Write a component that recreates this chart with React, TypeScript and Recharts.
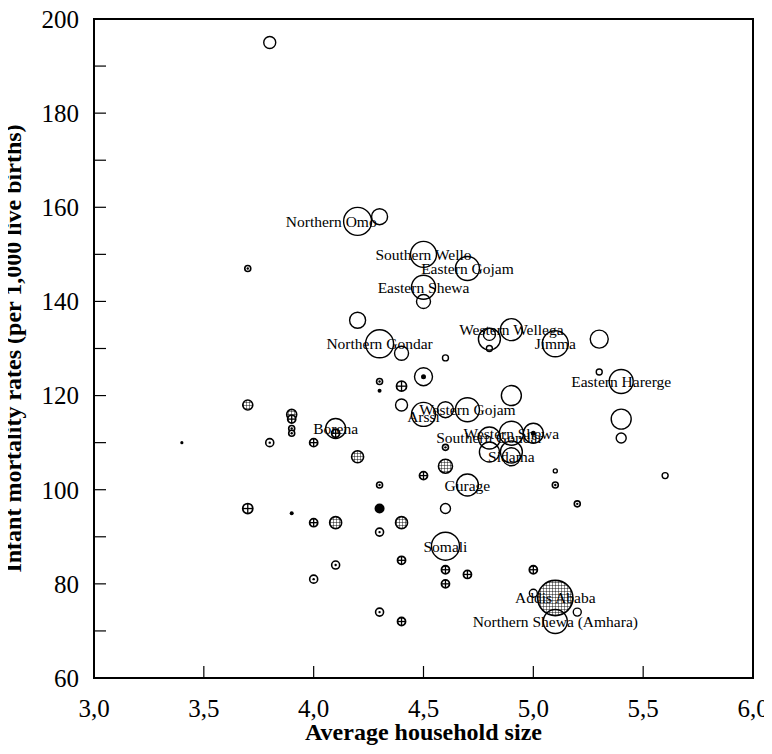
import React from "react";
import { ScatterChart, Scatter, XAxis, YAxis, ZAxis, ReferenceArea } from "recharts";

// x = average household size, y = infant mortality rate, z = bubble size value
const openPts = [
  { x: 3.8, y: 195, z: 360 },
  { x: 4.2, y: 157, z: 1960 },
  { x: 4.3, y: 158, z: 640 },
  { x: 4.5, y: 150, z: 1690 },
  { x: 4.7, y: 147, z: 1440 },
  { x: 4.5, y: 143, z: 1440 },
  { x: 4.5, y: 140, z: 490 },
  { x: 4.2, y: 136, z: 640 },
  { x: 4.3, y: 131, z: 1960 },
  { x: 4.4, y: 129, z: 490 },
  { x: 4.6, y: 128, z: 90 },
  { x: 4.9, y: 134, z: 1210 },
  { x: 4.8, y: 132, z: 1210 },
  { x: 4.8, y: 133, z: 360 },
  { x: 4.8, y: 130, z: 90 },
  { x: 5.1, y: 131, z: 1690 },
  { x: 5.3, y: 132, z: 810 },
  { x: 5.3, y: 125, z: 90 },
  { x: 5.4, y: 123, z: 1440 },
  { x: 4.9, y: 120, z: 1000 },
  { x: 4.4, y: 118, z: 360 },
  { x: 4.5, y: 116, z: 1440 },
  { x: 4.6, y: 117, z: 640 },
  { x: 4.7, y: 117, z: 1440 },
  { x: 5.4, y: 115, z: 1000 },
  { x: 5.4, y: 111, z: 250 },
  { x: 5.6, y: 103, z: 90 },
  { x: 4.8, y: 111, z: 1210 },
  { x: 4.9, y: 112, z: 1440 },
  { x: 4.8, y: 108, z: 1000 },
  { x: 4.9, y: 108, z: 1210 },
  { x: 4.9, y: 107, z: 810 },
  { x: 4.7, y: 101, z: 1210 },
  { x: 4.6, y: 96, z: 250 },
  { x: 5.1, y: 104, z: 40 },
  { x: 4.1, y: 113, z: 1000 },
  { x: 4.6, y: 88, z: 1960 },
  { x: 5.0, y: 78, z: 160 },
  { x: 5.2, y: 74, z: 160 },
  { x: 5.1, y: 72, z: 1440 },
];

const dotPts = [
  { x: 4.5, y: 124, z: 810 },
  { x: 5.0, y: 112, z: 1000 },
  { x: 4.3, y: 123, z: 90 },
  { x: 4.6, y: 109, z: 90 },
  { x: 5.1, y: 101, z: 90 },
  { x: 5.2, y: 97, z: 90 },
  { x: 3.8, y: 110, z: 160 },
  { x: 4.3, y: 101, z: 90 },
  { x: 4.3, y: 91, z: 160 },
  { x: 4.1, y: 84, z: 160 },
  { x: 4.0, y: 81, z: 160 },
  { x: 4.3, y: 74, z: 160 },
  { x: 3.7, y: 147, z: 90 },
  { x: 3.9, y: 113, z: 90 },
  { x: 3.9, y: 112, z: 90 },
];

const plusPts = [
  { x: 4.4, y: 122, z: 250 },
  { x: 4.5, y: 103, z: 160 },
  { x: 3.9, y: 115, z: 160 },
  { x: 4.0, y: 110, z: 160 },
  { x: 4.1, y: 112, z: 160 },
  { x: 4.0, y: 93, z: 160 },
  { x: 3.7, y: 96, z: 250 },
  { x: 4.4, y: 85, z: 160 },
  { x: 4.6, y: 83, z: 160 },
  { x: 4.7, y: 82, z: 160 },
  { x: 4.6, y: 80, z: 160 },
  { x: 5.0, y: 83, z: 160 },
  { x: 4.4, y: 72, z: 160 },
];

const gridPts = [
  { x: 3.7, y: 118, z: 250 },
  { x: 3.9, y: 116, z: 250 },
  { x: 4.2, y: 107, z: 360 },
  { x: 4.4, y: 93, z: 360 },
  { x: 4.1, y: 93, z: 360 },
  { x: 4.6, y: 105, z: 490 },
  { x: 5.1, y: 77, z: 3100 },
];

const solidPts = [
  { x: 4.3, y: 121, z: 40 },
  { x: 4.3, y: 96, z: 250 },
  { x: 3.9, y: 95, z: 40 },
  { x: 3.4, y: 110, z: 25 },
];

const zoneLabels = [
  { name: "Northern Omo", x: 4.08, y: 157 },
  { name: "Southern Wello", x: 4.5, y: 150 },
  { name: "Eastern Gojam", x: 4.7, y: 147 },
  { name: "Eastern Shewa", x: 4.5, y: 143 },
  { name: "Western Wellega", x: 4.9, y: 134 },
  { name: "Northern Gondar", x: 4.3, y: 131 },
  { name: "Jimma", x: 5.1, y: 131 },
  { name: "Eastern Harerge", x: 5.4, y: 123 },
  { name: "Western Gojam", x: 4.7, y: 117 },
  { name: "Arssi", x: 4.5, y: 115.5 },
  { name: "Borena", x: 4.1, y: 113 },
  { name: "Southern Gondar", x: 4.8, y: 111 },
  { name: "Western Shewa", x: 4.9, y: 112 },
  { name: "Sidama", x: 4.9, y: 107 },
  { name: "Gurage", x: 4.7, y: 101 },
  { name: "Somali", x: 4.6, y: 88 },
  { name: "Addis Ababa", x: 5.1, y: 77 },
  { name: "Northern Shewa (Amhara)", x: 5.1, y: 72 },
];

const xTicks = [3, 3.5, 4, 4.5, 5, 5.5, 6];
const yTicks = [60, 70, 80, 90, 100, 110, 120, 130, 140, 150, 160, 170, 180, 190, 200];

const serif = '"Liberation Serif", "Times New Roman", serif';

const rOf = (p: any) => (p.width ? p.width / 2 : Math.sqrt(Math.max(p.size || 0, 0) / Math.PI));

const OpenShape = (p: any) => (
  <circle cx={p.cx} cy={p.cy} r={rOf(p)} fill="none" stroke="#000" strokeWidth={1.4} />
);

const DotShape = (p: any) => {
  const r = rOf(p);
  return (
    <g>
      <circle cx={p.cx} cy={p.cy} r={r} fill="#fff" stroke="#000" strokeWidth={r > 6 ? 1.4 : 1.6} />
      <circle cx={p.cx} cy={p.cy} r={r > 6 ? 2.5 : 1.2} fill="#000" />
    </g>
  );
};

const PlusShape = (p: any) => {
  const r = rOf(p);
  return (
    <g>
      <circle cx={p.cx} cy={p.cy} r={r} fill="#fff" stroke="#000" strokeWidth={1.8} />
      <line x1={p.cx - r} x2={p.cx + r} y1={p.cy} y2={p.cy} stroke="#000" strokeWidth={1.3} />
      <line x1={p.cx} x2={p.cx} y1={p.cy - r} y2={p.cy + r} stroke="#000" strokeWidth={1.3} />
    </g>
  );
};

const GridShape = (p: any) => (
  <circle cx={p.cx} cy={p.cy} r={rOf(p)} fill="url(#hatch)" stroke="#000" strokeWidth={1.6} />
);

const SolidShape = (p: any) => <circle cx={p.cx} cy={p.cy} r={rOf(p)} fill="#000" />;

const LabelShape = (p: any) => (
  <text
    x={p.cx}
    y={p.cy}
    textAnchor="middle"
    dominantBaseline="central"
    fontFamily={serif}
    fontSize={15.5}
    fill="#000"
  >
    {p.payload.name}
  </text>
);

const YTitle = (props: any) => {
  const vb = props.viewBox;
  const cy = vb.y + vb.height / 2;
  return (
    <text
      x={21}
      y={cy}
      transform={`rotate(-90, 21, ${cy})`}
      textAnchor="middle"
      fontFamily={serif}
      fontWeight="bold"
      fontSize={24}
      fill="#000"
    >
      Infant mortality rates (per 1,000 live births)
    </text>
  );
};

export default function App() {
  const tickStyle = { fontFamily: serif, fontSize: 25, fill: "#000" };
  return (
    <div style={{ position: "relative", margin: "-8px 0 0 -8px" }}>
      <svg width={0} height={0} style={{ position: "absolute" }}>
        <defs>
          <pattern id="hatch" width={3} height={3} patternUnits="userSpaceOnUse">
            <rect width={3} height={3} fill="#fff" />
            <path d="M0 0H3M0 0V3" stroke="#000" strokeWidth={0.9} />
          </pattern>
        </defs>
      </svg>
      <ScatterChart width={772} height={754} margin={{ top: 19, right: 19, left: 0, bottom: 0 }}>
        <XAxis
          type="number"
          dataKey="x"
          domain={[3, 6]}
          ticks={xTicks}
          interval={0}
          tickFormatter={(v: number) => v.toFixed(1).replace(".", ",")}
          tick={tickStyle}
          tickSize={-12}
          tickMargin={33}
          height={76}
          axisLine={{ stroke: "#000", strokeWidth: 2 }}
          tickLine={{ stroke: "#000", strokeWidth: 1.2 }}
          label={{
            value: "Average household size",
            position: "insideBottom",
            offset: 14,
            style: { fontFamily: serif, fontWeight: "bold", fontSize: 24, fill: "#000" },
          }}
        />
        <YAxis
          type="number"
          dataKey="y"
          domain={[60, 200]}
          ticks={yTicks}
          interval={0}
          tickFormatter={(v: number) => (v % 20 === 0 ? String(v) : "")}
          tick={tickStyle}
          tickSize={-12}
          tickMargin={27}
          width={94}
          axisLine={{ stroke: "#000", strokeWidth: 2 }}
          tickLine={{ stroke: "#000", strokeWidth: 1.2 }}
          label={(props: any) => <YTitle {...props} />}
        />
        <ZAxis type="number" dataKey="z" domain={[0, 3240]} range={[0, 1018]} />
        <ReferenceArea x1={3} x2={6} y1={60} y2={200} fill="none" stroke="#000" strokeWidth={2} fillOpacity={0} />
        <Scatter data={gridPts} shape={GridShape} isAnimationActive={false} />
        <Scatter data={openPts} shape={OpenShape} isAnimationActive={false} />
        <Scatter data={dotPts} shape={DotShape} isAnimationActive={false} />
        <Scatter data={plusPts} shape={PlusShape} isAnimationActive={false} />
        <Scatter data={solidPts} shape={SolidShape} isAnimationActive={false} />
        <Scatter data={zoneLabels} shape={LabelShape} isAnimationActive={false} />
      </ScatterChart>
    </div>
  );
}
